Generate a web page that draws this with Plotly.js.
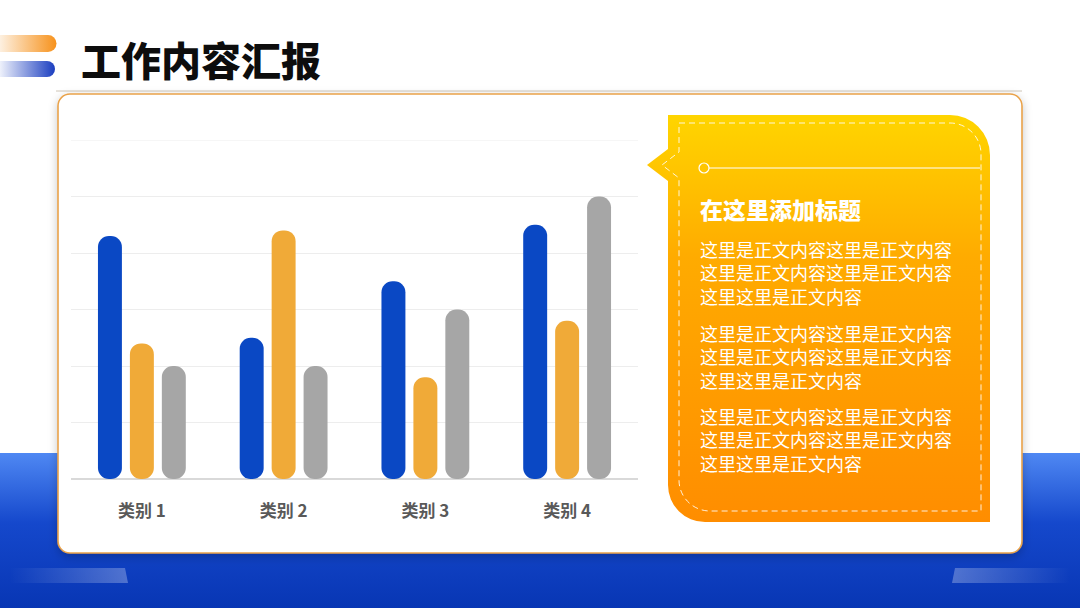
<!DOCTYPE html>
<html>
<head>
<meta charset="utf-8">
<script src="https://cdn.plot.ly/plotly-3.0.1.min.js"></script>
<style>
  html, body { margin:0; padding:0; width:1080px; height:608px; overflow:hidden; background:#fff; }
  #bg { position:absolute; left:0; top:0; }
  #chart { position:absolute; left:0; top:0; width:1080px; height:608px; }
</style>
</head>
<body>
<svg id="bg" width="1080" height="608" xmlns="http://www.w3.org/2000/svg">
  <defs>
    <linearGradient id="blueBand" x1="0" y1="0" x2="0" y2="1">
      <stop offset="0" stop-color="#4f88f3"/>
      <stop offset="0.45" stop-color="#1548cc"/>
      <stop offset="1" stop-color="#0836b4"/>
    </linearGradient>
    <linearGradient id="stripL" x1="0" y1="0" x2="1" y2="0">
      <stop offset="0" stop-color="#ffffff" stop-opacity="0"/>
      <stop offset="1" stop-color="#ffffff" stop-opacity="0.28"/>
    </linearGradient>
    <linearGradient id="stripR" x1="0" y1="0" x2="1" y2="0">
      <stop offset="0" stop-color="#ffffff" stop-opacity="0.28"/>
      <stop offset="1" stop-color="#ffffff" stop-opacity="0"/>
    </linearGradient>
    <linearGradient id="orStripe" x1="0" y1="0" x2="1" y2="0">
      <stop offset="0" stop-color="#fdf0e0"/>
      <stop offset="1" stop-color="#f7921c"/>
    </linearGradient>
    <linearGradient id="blStripe" x1="0" y1="0" x2="1" y2="0">
      <stop offset="0" stop-color="#eef1fb"/>
      <stop offset="1" stop-color="#1b3ec0"/>
    </linearGradient>
    <linearGradient id="callout" x1="0" y1="0" x2="0" y2="1">
      <stop offset="0" stop-color="#ffd500"/>
      <stop offset="0.35" stop-color="#ffab00"/>
      <stop offset="1" stop-color="#ff8d00"/>
    </linearGradient>
    <filter id="shadow" x="-10%" y="-10%" width="120%" height="130%">
      <feDropShadow dx="0" dy="3" stdDeviation="5" flood-color="#000" flood-opacity="0.22"/>
    </filter>
  </defs>
  <rect x="0" y="0" width="1080" height="608" fill="#ffffff"/>
  <rect x="0" y="453" width="1080" height="155" fill="url(#blueBand)"/>
  <polygon points="10,568 125,568 128,583 10,583" fill="url(#stripL)"/>
  <polygon points="955,568 1070,568 1070,583 952,583" fill="url(#stripR)"/>
  <!-- title decorations -->
  <path d="M0,35 H48 A8.5,8.5 0 0 1 48,52 H0 Z" fill="url(#orStripe)"/>
  <path d="M0,61 H47 A8,8 0 0 1 47,77 H0 Z" fill="url(#blStripe)"/>
  <line x1="56" y1="91" x2="1022" y2="91" stroke="#cfc6b8" stroke-width="1"/>
  <!-- card -->
  <rect x="58" y="94" width="964" height="459" rx="12" ry="12" fill="#ffffff" stroke="#e9a24a" stroke-width="1.6" filter="url(#shadow)"/>
  <!-- callout -->
  <path d="M668,115 H950 A40,40 0 0 1 990,155 V522 H705 A37,37 0 0 1 668,485 V181 L647,165 L668,149 Z" fill="url(#callout)"/>
  <path d="M679,123 H950 A31,31 0 0 1 981,154 V511 H710 A31,31 0 0 1 679,480 V178 L662,165 L679,152 Z" fill="none" stroke="#ffffff" stroke-opacity="0.85" stroke-width="1" stroke-dasharray="6,4"/>
  <circle cx="704" cy="168" r="5" fill="none" stroke="#ffffff" stroke-width="1.2"/>
  <line x1="709" y1="168" x2="980" y2="168" stroke="#ffffff" stroke-width="1.2"/>
</svg>
<div id="chart"></div>
<script>
// ---- data ----
const categories = ['类别 1', '类别 2', '类别 3', '类别 4'];
const seriesNames = ['系列 1', '系列 2', '系列 3'];
const series1 = [4.3, 2.5, 3.5, 4.5];
const series2 = [2.4, 4.4, 1.8, 2.8];
const series3 = [2, 2, 3, 5];
const seriesColors = ['#0a48c4', '#f0aa38', '#a6a6a6'];
const yMax = 6;

const pageTitle = '工作内容汇报';
const panelTitle = '在这里添加标题';
const panelParagraphs = [
  ['这里是正文内容这里是正文内容', '这里是正文内容这里是正文内容', '这里这里是正文内容'],
  ['这里是正文内容这里是正文内容', '这里是正文内容这里是正文内容', '这里这里是正文内容'],
  ['这里是正文内容这里是正文内容', '这里是正文内容这里是正文内容', '这里这里是正文内容']
];

// ---- layout geometry ----
const W = 1080, H = 608;
const PL = 71, PR = 638, PT = 140, PB = 479;
const px2x = px => (px - PL) / (PR - PL);
const py2y = py => (PB - py) / (PB - PT);

const allSeries = [series1, series2, series3];
// explicit base => Plotly rounds all four corners (pill-shaped bars)
const traces = allSeries.map((vals, i) => ({
  type: 'bar', name: seriesNames[i], x: categories, y: vals,
  base: vals.map(() => 0),
  marker: { color: seriesColors[i], cornerradius: 12, line: { width: 0 } },
  hoverinfo: 'skip', showlegend: false
}));

const CJK = '"Noto Sans CJK SC", "Noto Sans", sans-serif';
const annotations = [];
annotations.push({
  text: pageTitle, xref: 'paper', yref: 'paper', x: px2x(79), y: py2y(59),
  xanchor: 'left', yanchor: 'middle', showarrow: false,
  font: { family: CJK, size: 40, color: '#0d0d0d', weight: 900 }
});
annotations.push({
  text: panelTitle, xref: 'paper', yref: 'paper', x: px2x(698), y: py2y(209),
  xanchor: 'left', yanchor: 'middle', showarrow: false,
  font: { family: CJK, size: 23, color: '#ffffff', weight: 900 }
});
const paraCenters = [272, 356, 439];
panelParagraphs.forEach((lines, p) => {
  annotations.push({
    text: lines.join('<br>'), xref: 'paper', yref: 'paper', x: px2x(698), y: py2y(paraCenters[p]),
    xanchor: 'left', yanchor: 'middle', align: 'left', showarrow: false,
    font: { family: CJK, size: 18, color: '#ffffff' }
  });
});

const layout = {
  width: W, height: H,
  margin: { l: PL, r: W - PR, t: PT, b: H - PB, pad: 0 },
  paper_bgcolor: 'rgba(0,0,0,0)', plot_bgcolor: 'rgba(0,0,0,0)',
  barmode: 'group', bargap: 0.324, bargroupgap: 0.25,
  showlegend: false,
  xaxis: {
    type: 'category', showgrid: false, zeroline: false, showline: false,
    ticks: '', ticklabelstandoff: 20,
    tickfont: { family: CJK, size: 17, color: '#595959', weight: 700 },
    fixedrange: true
  },
  yaxis: {
    range: [0, yMax], dtick: 1, showgrid: true, gridcolor: '#ededed', gridwidth: 1,
    zeroline: true, zerolinecolor: '#d9d9d9', zerolinewidth: 1.5,
    showticklabels: false, ticks: '', showline: false, fixedrange: true
  },
  shapes: [{
    type: 'line', xref: 'paper', x0: 0, x1: 1, yref: 'y', y0: yMax, y1: yMax,
    line: { color: '#ededed', width: 1 }, layer: 'below'
  }],
  annotations: annotations,
  font: { family: CJK }
};

Plotly.newPlot('chart', traces, layout, { displayModeBar: false, staticPlot: true });
</script>
</body>
</html>
